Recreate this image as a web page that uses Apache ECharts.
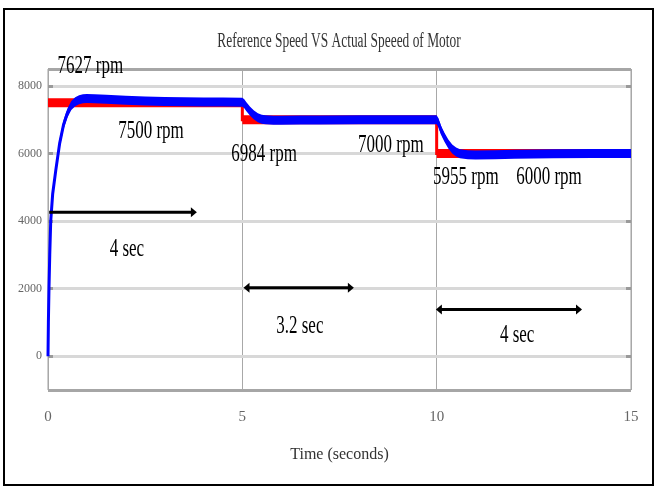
<!DOCTYPE html>
<html><head><meta charset="utf-8">
<script src="https://cdn.jsdelivr.net/npm/echarts@6/dist/echarts.min.js"></script>
<style>html,body{margin:0;padding:0;background:#fff}#c{width:656px;height:488px}</style>
</head><body><div id="c"></div>
<script>
const titleText = 'Reference Speed VS Actual Speeed of Motor';
const xAxisName = 'Time (seconds)';
const xTicks = [0, 5, 10, 15];
const yTicks = [0, 2000, 4000, 6000, 8000];
const yRange = [-1000, 8500];

const refTime  = [0, 5, 5, 10, 10, 15];
const refSpeed = [7500, 7500, 7000, 7000, 6000, 6000];

const actTime  = [0,0.01,0.025,0.045,0.07,0.12,0.2,0.3,0.4,0.5,0.6,0.7,0.8,0.9,1.0,1.2,1.5,2.0,2.5,3.0,3.5,4.0,4.5,5.0,5.05,5.1,5.2,5.3,5.4,5.5,5.6,5.8,6.0,6.5,7.0,8.0,9.0,10.0,10.05,10.1,10.2,10.3,10.4,10.5,10.6,10.8,11.0,11.5,12.0,12.5,13.0,14.0,15.0];
const actSpeed = [0,1000,2000,3000,4000,4800,5500,6300,6850,7200,7420,7530,7590,7620,7627,7622,7605,7575,7555,7540,7530,7524,7520,7518,7470,7390,7250,7140,7060,7015,6995,6986,6984,6988,6993,6998,7000,7000,6900,6720,6480,6280,6130,6040,5990,5962,5955,5960,5975,5988,5995,6000,6000];

const annTexts = ['7627 rpm', '7500 rpm', '6984 rpm', '7000 rpm', '5955 rpm', '6000 rpm', '4 sec', '3.2 sec', '4 sec'];
const annTime  = [1.09, 2.65, 5.56, 8.82, 10.75, 12.89, 2.03, 6.48, 12.07];
const annSpeed = [8578, 6652, 5970, 6252, 5289, 5304, 3156, 889, 622];

const arrowStart = [0.03, 5.03, 9.98];
const arrowEnd   = [3.83, 7.87, 13.74];
const arrowSpeed = [4257, 2024, 1383];
const arrowBoth  = [false, true, true];

const chart = echarts.init(document.getElementById('c'), null, {renderer: 'canvas'});
const serif = 'Liberation Serif, Times New Roman, serif';

const gridLines = yTicks.map(v => ({yAxis: v, lineStyle: {color: '#d8d8d8', width: 3, type: 'solid'}}))
  .concat([{yAxis: yRange[0], lineStyle: {color: '#a6a6a6', width: 3, type: 'solid'}},
           {yAxis: yRange[1], lineStyle: {color: '#a6a6a6', width: 3, type: 'solid'}}]);

// Thick signal trace: band with vertical thickness (like a rippling scope trace) plus a thin core line
function bandRenderer(times, speeds, color, half, coreWidth) {
  return function (params, api) {
    if (params.dataIndex !== 0) return null;
    const pts = times.map((t, i) => api.coord([t, speeds[i]]));
    const upper = pts.map(p => [p[0], p[1] - half]);
    const lower = pts.map(p => [p[0], p[1] + half]).reverse();
    return {type: 'group', children: [
      {type: 'polygon', shape: {points: upper.concat(lower)}, style: {fill: color}},
      {type: 'polyline', shape: {points: pts}, style: {stroke: color, lineWidth: coreWidth, fill: null}}
    ]};
  };
}

const yAxisBase = {
  type: 'value', min: yRange[0], max: yRange[1], z: 2,
  axisLine: {show: false},
  axisTick: {show: true, inside: true, length: 5, customValues: yTicks, lineStyle: {color: '#9a9a9a', width: 3}},
  splitLine: {show: false}
};

chart.setOption({
  animation: false,
  backgroundColor: '#fff',
  graphic: [
    {type: 'rect', shape: {x: 4, y: 9, width: 649, height: 476}, style: {fill: 'none', stroke: '#000', lineWidth: 2}, z: 100},
    {type: 'text', x: 339, y: 42, scaleX: 0.67, style: {text: titleText, fontFamily: serif, fontSize: 20, fill: '#333', align: 'center', verticalAlign: 'middle'}, z: 100}
  ],
  grid: {left: 48, right: 25, top: 69, bottom: 98, show: true, borderColor: '#a0a0a0', borderWidth: 1},
  xAxis: {
    type: 'value', min: xTicks[0], max: xTicks[xTicks.length - 1], interval: 5,
    name: xAxisName, nameLocation: 'middle', nameGap: 57,
    nameTextStyle: {fontFamily: serif, fontSize: 16, color: '#333'},
    axisLine: {show: false}, axisTick: {show: false},
    axisLabel: {margin: 20, fontFamily: serif, fontSize: 15, color: '#666'},
    splitLine: {show: true, lineStyle: {color: '#a8a8a8', width: 1}}
  },
  yAxis: [
    Object.assign({}, yAxisBase, {position: 'left',
      axisLabel: {customValues: yTicks, margin: 6, fontFamily: serif, fontSize: 12, color: '#666', formatter: v => String(v)}}),
    Object.assign({}, yAxisBase, {position: 'right', axisLabel: {show: false}})
  ],
  series: [
    {type: 'line', data: [], z: 1, silent: true,
     markLine: {silent: true, z: 1, symbol: 'none', label: {show: false}, animation: false, data: gridLines}},
    {name: 'Reference', type: 'custom', z: 3, clip: false, silent: true,
     data: refTime.map((t, i) => [t, refSpeed[i]]),
     renderItem: bandRenderer(refTime, refSpeed, '#ff0000', 4.5, 3)},
    {name: 'Actual', type: 'custom', z: 4, clip: false, silent: true,
     data: actTime.map((t, i) => [t, actSpeed[i]]),
     renderItem: bandRenderer(actTime, actSpeed, '#0000ff', 4.5, 3)},
    {type: 'custom', z: 5, clip: false, silent: true,
     data: arrowStart.map((s, i) => [s, arrowSpeed[i]]),
     renderItem: function (params, api) {
       const i = params.dataIndex;
       const p1 = api.coord([arrowStart[i], arrowSpeed[i]]);
       const p2 = api.coord([arrowEnd[i], arrowSpeed[i]]);
       const hl = 6, hw = 5;
       const ch = [
         {type: 'line', shape: {x1: p1[0] + (arrowBoth[i] ? hl - 1 : 0), y1: p1[1], x2: p2[0] - hl + 1, y2: p2[1]}, style: {stroke: '#000', lineWidth: 3}},
         {type: 'polygon', shape: {points: [[p2[0], p2[1]], [p2[0] - hl, p2[1] - hw], [p2[0] - hl, p2[1] + hw]]}, style: {fill: '#000'}}
       ];
       if (arrowBoth[i]) {
         ch.push({type: 'polygon', shape: {points: [[p1[0], p1[1]], [p1[0] + hl, p1[1] - hw], [p1[0] + hl, p1[1] + hw]]}, style: {fill: '#000'}});
       }
       return {type: 'group', children: ch};
     }},
    {type: 'custom', z: 6, clip: false, silent: true,
     data: annTime.map((t, i) => [t, annSpeed[i]]),
     renderItem: function (params, api) {
       const i = params.dataIndex;
       const p = api.coord([annTime[i], annSpeed[i]]);
       return {type: 'text', x: p[0], y: p[1], scaleX: 0.68,
               style: {text: annTexts[i], fontFamily: serif, fontSize: 25, fill: '#000', align: 'center', verticalAlign: 'middle'}};
     }}
  ]
});
</script>
</body></html>
